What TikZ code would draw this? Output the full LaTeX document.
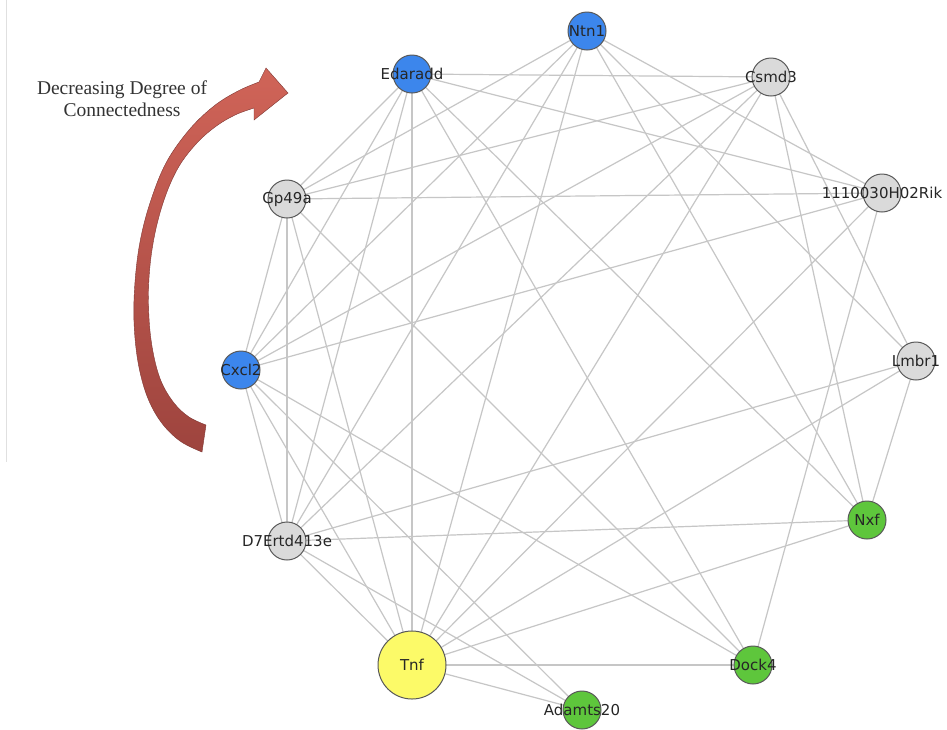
\documentclass[tikz,border=0pt]{standalone}
\usepackage{fontspec}
\setmainfont{Liberation Serif}
\newfontfamily\labelfont{DejaVu Sans}
\definecolor{nblue}{RGB}{60,134,236}
\definecolor{ngray}{RGB}{218,218,218}
\definecolor{ngreen}{RGB}{94,198,60}
\definecolor{nyellow}{RGB}{252,250,104}
\definecolor{edgegray}{RGB}{198,198,198}
\definecolor{arrowtop}{RGB}{208,100,88}
\definecolor{arrowbot}{RGB}{158,68,62}
\pgfdeclarelayer{bg}
\pgfsetlayers{bg,main}
\newcommand{\glab}[1]{\makebox[0pt][c]{#1}}
\begin{document}
\begin{tikzpicture}[x=1pt,y=-1pt,
  gnode/.style={circle, draw=black!65, line width=1pt, minimum size=38pt, inner sep=0pt,
    font=\labelfont\fontsize{15}{15}\selectfont, text=black!85},
  bluenode/.style={gnode, fill=nblue},
  graynode/.style={gnode, fill=ngray},
  greennode/.style={gnode, fill=ngreen},
  bignode/.style={gnode, fill=nyellow, minimum size=68pt},
  link/.style={draw=edgegray, line width=1.2pt}]
\useasboundingbox (0,0) rectangle (947,729);

% nodes
\node[bluenode]  (N) at (587,31)  {\glab{Ntn1}};
\node[bluenode]  (E) at (412,74)  {\glab{Edaradd}};
\node[graynode]  (C) at (771,77)  {\glab{Csmd3}};
\node[graynode]  (R) at (882,193) {\glab{1110030H02Rik}};
\node[graynode]  (G) at (287,199) {\glab{Gp49a}};
\node[bluenode]  (X) at (241,370) {\glab{Cxcl2}};
\node[graynode]  (L) at (916,361) {\glab{Lmbr1}};
\node[greennode] (F) at (867,520) {\glab{Nxf}};
\node[graynode]  (D) at (287,541) {\glab{D7Ertd413e}};
\node[bignode]   (T) at (412,665) {\glab{Tnf}};
\node[greennode] (A) at (582,710) {\glab{Adamts20}};
\node[greennode] (K) at (753,665) {\glab{Dock4}};

% edges
\begin{pgfonlayer}{bg}
\fill[white] (0,0) rectangle (947,729);
\draw[black!12, line width=1pt] (6,0) -- (6,462);
\foreach \a/\b in {E/C,E/R,E/G,E/X,E/D,E/T,E/K,E/F,
                   G/N,G/C,G/R,G/X,G/D,G/T,G/K,
                   X/N,X/C,X/R,X/D,X/T,X/A,X/K,
                   D/N,D/C,D/L,D/F,D/T,D/A,
                   N/T,N/L,N/F,N/R,
                   C/T,C/F,C/L,
                   R/T,R/K,
                   L/T,L/F,
                   F/T,
                   T/K,T/A}
  \draw[link] (\a.center) -- (\b.center);
\end{pgfonlayer}

% curved arrow
\shade[top color=arrowtop, bottom color=arrowbot, draw=arrowbot!80!black, line width=0.4pt]
  plot[smooth, tension=0.6] coordinates {(202,452) (180,441) (161,422) (147,396) (138,362) (134,322) (135,282) (140,242) (150,203) (166,163) (189,130) (214,106) (238,91) (259,82)}
  -- (266,68) -- (288,93) -- (254,120) --
  plot[smooth, tension=0.6] coordinates {(254,108) (235,115) (215,127) (196,144) (178,168) (164,200) (154,238) (149,278) (149,318) (153,352) (161,381) (174,403) (189,417) (206,425)}
  -- cycle;

\node[name=title, align=center, text=black!80, font=\fontsize{19.5}{22}\selectfont] at (122,99) {Decreasing Degree of\\Connectedness};
\end{tikzpicture}
\end{document}
